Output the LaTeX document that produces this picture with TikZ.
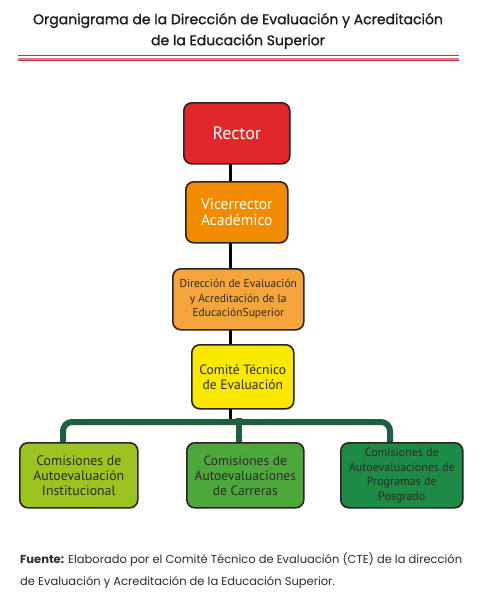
\documentclass[tikz,border=0pt]{standalone}
\usepackage{fontspec}
\setmainfont{PT Sans}
\newfontfamily\titlefont[FakeBold=1.2]{Poppins}
\newfontfamily\footfont{Poppins}
\definecolor{cRector}{HTML}{E2272C}
\definecolor{cVice}{HTML}{F18C00}
\definecolor{cDir}{HTML}{F6A53C}
\definecolor{cCom}{HTML}{FAE800}
\definecolor{cG1}{HTML}{9CC420}
\definecolor{cG2}{HTML}{4DA83C}
\definecolor{cG3}{HTML}{1D8A46}
\definecolor{cLink}{HTML}{1F5E40}
\definecolor{cBorder}{HTML}{2B2320}
\definecolor{cText}{HTML}{2E2A26}
\definecolor{cTitle}{HTML}{1E1B1A}
\definecolor{cRule}{HTML}{C8323A}
\definecolor{cBand}{HTML}{E07F86}
\tikzset{
  orgbox/.style={draw=cBorder, line width=1.6pt, rounded corners=8pt, align=center, inner sep=0pt, anchor=north west},
  chain/.style={draw=black, line width=3pt},
  glink/.style={draw=cLink, line width=6pt, rounded corners=9pt},
}
\begin{document}
\begin{tikzpicture}[x=1pt,y=-1pt]
\useasboundingbox (0,0) rectangle (485,600);
% title
\node[font=\titlefont\fontsize{14}{21}\selectfont, align=center, text=cTitle] (title) at (238,31)
  {Organigrama de la Dirección de Evaluación y Acreditación\\de la Educación Superior};
\fill[cBand] (18,57.5) rectangle (459,60.7);
\draw[cRule, line width=1.2pt] (18,55.3) coordinate (r1a) -- (459,55.3) coordinate (r1b);
\draw[cRule, line width=0.8pt] (18,60.3) coordinate (r2a) -- (459,60.3) coordinate (r2b);
% chain
\coordinate (bar) at (230,422);
\draw[chain] (bar |- 0,150) -- (bar);
% boxes
\node[orgbox, fill=cRector, minimum width=106pt, minimum height=61pt, text=white, font=\fontsize{18}{20}\selectfont] (rector) at (183,102) {Rector};
\node[orgbox, fill=cVice, minimum width=102pt, minimum height=61pt, text=white, font=\fontsize{15.5}{16.5}\selectfont] (vice) at (185,181) {Vicerrector\\Académico};
\node[orgbox, fill=cDir, minimum width=131pt, minimum height=61pt, text=cText, font=\fontsize{11.5}{14.7}\selectfont] (dir) at (172,268) {Dirección de Evaluación\\y Acreditación de la\\EducaciónSuperior};
\node[orgbox, fill=cCom, minimum width=102pt, minimum height=64pt, text=cText, font=\fontsize{13.5}{15}\selectfont] (com) at (191,344) {Comité Técnico\\de Evaluación};
\node[orgbox, fill=cG1, minimum width=118pt, minimum height=65pt, text=cText, font=\fontsize{13.8}{15}\selectfont] (g1) at (19,442) {Comisiones de\\Autoevaluación\\Institucional};
\node[orgbox, fill=cG2, minimum width=117pt, minimum height=65pt, text=cText, font=\fontsize{13.5}{15}\selectfont] (g2) at (186,442) {Comisiones de\\Autoevaluaciones\\de Carreras};
\node[orgbox, fill=cG3, minimum width=122pt, minimum height=65pt, text=cText, font=\fontsize{12}{14.5}\selectfont] (g3) at (340,442) {Comisiones de\\Autoevaluaciones de\\Programas de\\Posgrado};
% green links
\coordinate (b1) at (63,422);
\coordinate (b3) at (390,422);
\draw[glink] (g1.north -| b1) -- (b1) -- (b3) -- (g3.north -| b3);
\coordinate (b2) at (239,418);
\draw[cLink, line width=6pt] (b2) -- (g2.north -| b2);
% footer
\node[anchor=north west, align=left, font=\footfont\fontsize{11.5}{21.5}\selectfont, text=cText, inner sep=0pt] (foot) at (20,553)
  {\textbf{Fuente:} Elaborado por el Comité Técnico de Evaluación (CTE) de la dirección\\de Evaluación y Acreditación de la Educación Superior.};
\end{tikzpicture}
\end{document}
